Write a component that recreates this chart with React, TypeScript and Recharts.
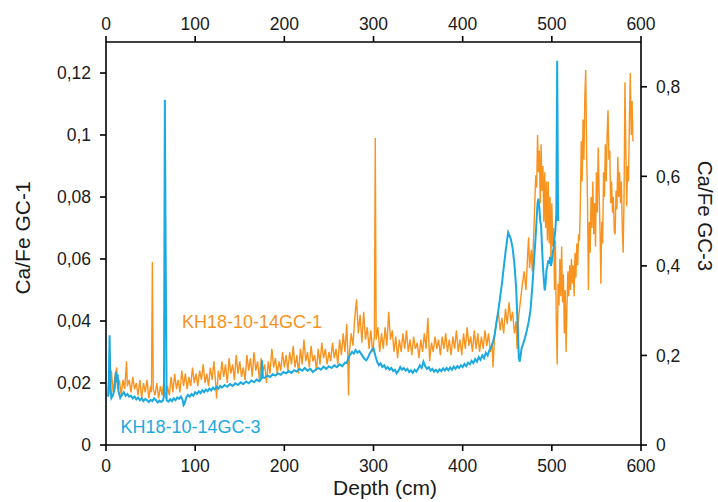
import React from "react";
import { LineChart, Line, XAxis, YAxis } from "recharts";

// Depth (cm) ticks
const depthTicks = [0, 100, 200, 300, 400, 500, 600];
const leftTicks = [0, 0.02, 0.04, 0.06, 0.08, 0.1, 0.12];
const rightTicks = [0, 0.2, 0.4, 0.6, 0.8];

// KH18-10-14GC-1 : [depth, Ca/Fe] (left axis)
const gc1: [number, number][] = [
  [2,0.016],[3,0.021],[5,0.018],[6,0.024],[8,0.017],[10,0.022],[12,0.025],[13,0.018],[15,0.021],[17,0.016],[19,0.021],[21,0.018],[23,0.027],[24,0.019],[26,0.021],[28,0.017],[30,0.022],[32,0.018],[34,0.020],[36,0.016],[38,0.021],[40,0.015],[42,0.020],[44,0.017],[46,0.021],[48,0.015],[50,0.019],[51,0.017],[52,0.059],[53,0.018],[55,0.016],[57,0.020],[59,0.015],[61,0.019],[63,0.016],[65,0.021],[67,0.015],[69,0.019],[71,0.016],[73,0.022],[75,0.017],[77,0.023],[79,0.018],[81,0.021],[83,0.017],[85,0.024],[87,0.019],[89,0.023],[91,0.018],[93,0.022],[95,0.019],[97,0.025],[99,0.020],
  [101,0.023],[103,0.019],[105,0.024],[107,0.021],[109,0.026],[111,0.020],[113,0.023],[115,0.019],[117,0.025],[119,0.021],[121,0.027],[123,0.020],[124,0.015],[126,0.024],[128,0.021],[130,0.027],[132,0.022],[134,0.026],[136,0.020],[138,0.028],[140,0.023],[142,0.026],[144,0.021],[146,0.029],[148,0.023],[150,0.027],[152,0.022],[154,0.025],[156,0.021],[158,0.029],[160,0.024],[162,0.028],[164,0.022],[166,0.030],[168,0.024],[170,0.027],[172,0.021],[174,0.028],[176,0.024],[178,0.026],[180,0.020],[182,0.027],[184,0.023],[186,0.031],[188,0.025],[190,0.028],[192,0.023],[194,0.027],[196,0.024],[198,0.030],[200,0.025],
  [202,0.029],[204,0.024],[206,0.030],[208,0.026],[210,0.032],[212,0.025],[214,0.029],[216,0.023],[218,0.031],[220,0.026],[222,0.034],[224,0.027],[226,0.030],[228,0.025],[230,0.032],[232,0.027],[234,0.029],[236,0.024],[238,0.031],[240,0.026],[242,0.033],[244,0.028],[246,0.031],[248,0.026],[250,0.030],[252,0.027],[254,0.033],[256,0.028],[258,0.031],[260,0.026],[262,0.034],[264,0.029],[266,0.036],[268,0.030],[270,0.039],[271,0.031],[272,0.016],[273,0.030],[275,0.036],[277,0.032],[279,0.041],[281,0.047],[283,0.036],[285,0.042],[287,0.033],[289,0.043],[291,0.034],[293,0.038],[295,0.031],[297,0.037],[299,0.030],[301,0.035],[302,0.099],[303,0.034],[305,0.038],[307,0.030],
  [309,0.036],[311,0.031],[313,0.038],[315,0.032],[317,0.043],[319,0.034],[321,0.037],[323,0.030],[325,0.035],[327,0.028],[329,0.034],[331,0.030],[333,0.036],[335,0.031],[337,0.037],[339,0.030],[341,0.034],[343,0.029],[345,0.035],[347,0.031],[349,0.033],[351,0.028],[353,0.034],[355,0.030],[357,0.036],[359,0.031],[361,0.041],[363,0.027],[365,0.033],[367,0.030],[369,0.035],[371,0.031],[373,0.034],[375,0.029],[377,0.035],[379,0.031],[381,0.036],[383,0.030],[385,0.034],[387,0.029],[389,0.035],[391,0.031],[393,0.037],[395,0.030],[397,0.034],[399,0.029],[401,0.036],[403,0.031],[405,0.038],[407,0.032],[409,0.035],[411,0.030],[413,0.037],[415,0.031],[417,0.036],[419,0.030],[421,0.035],[423,0.031],[425,0.037],[427,0.032],[429,0.036],[431,0.030],[433,0.033],[434,0.025],
  [436,0.036],[438,0.040],[440,0.043],[442,0.037],[444,0.041],[446,0.036],[448,0.044],[450,0.039],[452,0.046],[454,0.040],[456,0.043],[458,0.036],[460,0.040],[461,0.031],[463,0.042],[465,0.047],[467,0.052],[469,0.056],[471,0.050],[473,0.062],[474,0.067],[475,0.057],[477,0.063],[478,0.056],[480,0.070],[481,0.079],[482,0.087],[483,0.083],[484,0.100],[485,0.088],[486,0.095],[487,0.078],[488,0.097],[489,0.082],[490,0.090],[491,0.072],[492,0.088],[493,0.070],[494,0.085],[495,0.066],[496,0.085],[497,0.065],[498,0.080],[499,0.060],[500,0.078],[501,0.064],[502,0.070],[503,0.050],[504,0.066],[505,0.040],[506,0.026],[507,0.052],[508,0.045],
  [509,0.060],[510,0.048],[511,0.064],[512,0.046],[513,0.055],[514,0.036],[515,0.050],[516,0.030],[517,0.045],[518,0.056],[519,0.048],[520,0.058],[521,0.050],[522,0.060],[523,0.052],[524,0.058],[525,0.048],[526,0.062],[527,0.054],[528,0.065],[529,0.058],[530,0.068],[531,0.066],[532,0.078],[533,0.098],[534,0.085],[535,0.105],[536,0.092],[537,0.112],[538,0.121],[539,0.095],[540,0.079],[541,0.050],[542,0.072],[543,0.062],[544,0.080],[545,0.070],[546,0.085],[547,0.068],[548,0.078],[549,0.064],[550,0.088],[551,0.075],[552,0.096],[553,0.082],[554,0.070],[555,0.052],[556,0.072],[557,0.065],[558,0.088],[559,0.080],[560,0.097],[561,0.085],[562,0.100],[563,0.108],[564,0.092],[565,0.095],[566,0.078],[567,0.085],[568,0.075],[569,0.080],[570,0.069],[571,0.068],[572,0.082],[573,0.076],[574,0.093],[575,0.080],[576,0.088],[577,0.078],[578,0.085],[579,0.070],[580,0.062],[581,0.080],[582,0.117],[583,0.095],[584,0.077],[585,0.090],[586,0.085],[587,0.105],[588,0.120],[589,0.100],[590,0.111],[591,0.098]
];

// KH18-10-14GC-3 : [depth, Ca/Fe] (right axis)
const gc3: [number, number][] = [
  [2,0.108],[3,0.115],[4,0.245],[5,0.130],[6,0.105],[8,0.112],[10,0.130],[11,0.163],[12,0.140],[13,0.158],[14,0.120],[16,0.105],[18,0.112],[20,0.118],[22,0.110],[24,0.114],[26,0.108],[28,0.110],[30,0.104],[32,0.108],[34,0.102],[36,0.106],[38,0.100],[40,0.104],[42,0.098],[44,0.103],[46,0.100],[48,0.096],[50,0.101],[52,0.098],[54,0.104],[56,0.100],[58,0.095],[60,0.099],[62,0.096],[64,0.100],[65,0.110],[66,0.771],[67,0.400],[68,0.100],[70,0.097],[72,0.102],[74,0.098],[76,0.104],[78,0.100],[80,0.106],[82,0.103],[84,0.108],[86,0.100],[87,0.089],[88,0.092],[90,0.106],[92,0.112],[94,0.108],[96,0.114],[98,0.110],
  [100,0.118],[102,0.114],[104,0.120],[106,0.116],[108,0.122],[110,0.118],[112,0.124],[114,0.120],[116,0.126],[118,0.122],[120,0.128],[122,0.124],[124,0.130],[126,0.126],[128,0.132],[130,0.128],[133,0.134],[136,0.130],[139,0.136],[142,0.132],[145,0.138],[148,0.134],[151,0.140],[154,0.136],[157,0.142],[160,0.138],[163,0.144],[166,0.140],[169,0.146],[172,0.142],[174,0.148],[175,0.189],[176,0.150],[178,0.150],[181,0.155],[184,0.152],[187,0.158],[190,0.155],[193,0.160],[196,0.157],[199,0.163],
  [202,0.160],[205,0.165],[208,0.161],[211,0.167],[214,0.164],[217,0.170],[220,0.166],[223,0.172],[226,0.166],[229,0.170],[232,0.163],[235,0.168],[238,0.172],[241,0.168],[244,0.175],[247,0.170],[250,0.176],[253,0.172],[256,0.178],[259,0.174],[262,0.180],[265,0.176],[268,0.184],[270,0.183],[272,0.196],[274,0.202],[276,0.208],[278,0.204],[280,0.212],[282,0.206],[284,0.210],[286,0.204],[288,0.198],[290,0.192],[292,0.189],[294,0.196],[296,0.205],[298,0.212],[300,0.216],
  [302,0.200],[304,0.186],[306,0.178],[308,0.182],[310,0.174],[312,0.178],[314,0.170],[316,0.174],[318,0.168],[320,0.172],[322,0.165],[324,0.168],[326,0.160],[328,0.166],[330,0.174],[332,0.168],[334,0.172],[336,0.166],[338,0.170],[340,0.163],[342,0.167],[344,0.161],[346,0.168],[348,0.164],[350,0.170],[352,0.178],[354,0.172],[356,0.186],[358,0.176],[360,0.170],[362,0.174],[364,0.166],[366,0.170],[368,0.164],[370,0.168],[372,0.163],[374,0.169],[376,0.165],[378,0.171],[380,0.166],[382,0.172],[384,0.167],[386,0.173],[388,0.168],[390,0.175],[392,0.170],[394,0.176],[396,0.172],[398,0.178],
  [400,0.174],[402,0.181],[404,0.176],[406,0.184],[408,0.180],[410,0.188],[412,0.183],[414,0.192],[416,0.186],[418,0.196],[420,0.190],[422,0.200],[424,0.194],[426,0.206],[428,0.200],[430,0.212],[432,0.218],[434,0.230],[436,0.248],[438,0.275],[440,0.300],[442,0.330],[444,0.360],[446,0.395],[448,0.430],[450,0.460],[451,0.475],[452,0.470],[454,0.460],[456,0.440],[458,0.405],[460,0.350],[461,0.300],[462,0.250],[463,0.195],[464,0.186],[465,0.200],[466,0.215],[468,0.227],[470,0.240],[472,0.256],[474,0.275],[476,0.300],[478,0.350],[480,0.410],[482,0.470],[484,0.540],[485,0.550],[486,0.530],[487,0.500],[488,0.490],[489,0.440],[490,0.400],[491,0.370],[492,0.345],[493,0.360],[494,0.390],[495,0.400],[496,0.412],[497,0.405],[498,0.420],[499,0.400],[500,0.410],[501,0.430],[502,0.440],[503,0.464],[504,0.480],[505,0.516],[506,0.858],[507,0.500]
];

const gc1Data = gc1.map(([d, v]) => ({ d, v }));
const gc3Data = gc3.map(([d, v]) => ({ d, v }));

const ORANGE = "#F7931E";
const BLUE = "#1BA9E1";
const FONT = "'Liberation Sans', Arial, Helvetica, sans-serif";
const TXT = "#1a1a1a";

const fmt = (v: number) => String(v).replace(".", ",");
const tickStyle = { fill: TXT, fontSize: 17.5, fontFamily: FONT };
const axisLine = { stroke: "#000", strokeWidth: 1.6 };

const seriesLabels = () => (
  <g>
    <text x={182} y={327.5} fill={ORANGE} fontSize={18} fontFamily={FONT}>KH18-10-14GC-1</text>
    <text x={120.5} y={432.5} fill={BLUE} fontSize={18} fontFamily={FONT}>KH18-10-14GC-3</text>
  </g>
);
const depthTitle = () => (
  <text x={385} y={495} textAnchor="middle" fill={TXT} fontSize={21} fontFamily={FONT}>Depth (cm)</text>
);
const leftTitle = () => (
  <text x={30} y={238} transform="rotate(-90 30 238)" textAnchor="middle" fill={TXT} fontSize={21} fontFamily={FONT}>Ca/Fe GC-1</text>
);
const rightTitle = () => (
  <text x={698} y={216} transform="rotate(90 698 216)" textAnchor="middle" fill={TXT} fontSize={20.5} fontFamily={FONT}>Ca/Fe GC-3</text>
);

export default function App() {
  return (
    <div style={{ position: "absolute", left: 0, top: 0, background: "#fff" }}>
      <LineChart width={718} height={502} margin={{ top: 0, right: 0, bottom: 0, left: 0 }}>
        <XAxis
          xAxisId="bottom"
          dataKey="d"
          type="number"
          domain={[0, 600]}
          ticks={depthTicks}
          orientation="bottom"
          height={57}
          tickSize={6}
          tickMargin={9}
          tick={tickStyle}
          axisLine={axisLine}
          tickLine={axisLine}
          allowDataOverflow
          label={depthTitle}
        />
        <XAxis
          xAxisId="top"
          dataKey="d"
          type="number"
          domain={[0, 600]}
          ticks={depthTicks}
          orientation="top"
          height={42}
          tickSize={6}
          tickMargin={6}
          tick={tickStyle}
          axisLine={axisLine}
          tickLine={axisLine}
          allowDataOverflow
          label={seriesLabels}
        />
        <YAxis
          yAxisId="left"
          type="number"
          domain={[0, 0.13]}
          ticks={leftTicks}
          tickFormatter={fmt}
          width={106}
          tickSize={6}
          tickMargin={9}
          tick={tickStyle}
          axisLine={axisLine}
          tickLine={axisLine}
          allowDataOverflow
          label={leftTitle}
        />
        <YAxis
          yAxisId="right"
          orientation="right"
          type="number"
          domain={[0, 0.9]}
          ticks={rightTicks}
          tickFormatter={fmt}
          width={77}
          tickSize={6}
          tickMargin={9}
          tick={tickStyle}
          axisLine={axisLine}
          tickLine={axisLine}
          allowDataOverflow
          label={rightTitle}
        />
        <Line
          data={gc1Data}
          dataKey="v"
          xAxisId="bottom"
          yAxisId="left"
          type="linear"
          stroke={ORANGE}
          strokeWidth={1.4}
          dot={false}
          activeDot={false}
          isAnimationActive={false}
        />
        <Line
          data={gc3Data}
          dataKey="v"
          xAxisId="bottom"
          yAxisId="right"
          type="linear"
          stroke={BLUE}
          strokeWidth={2}
          dot={false}
          activeDot={false}
          isAnimationActive={false}
        />
      </LineChart>
    </div>
  );
}
